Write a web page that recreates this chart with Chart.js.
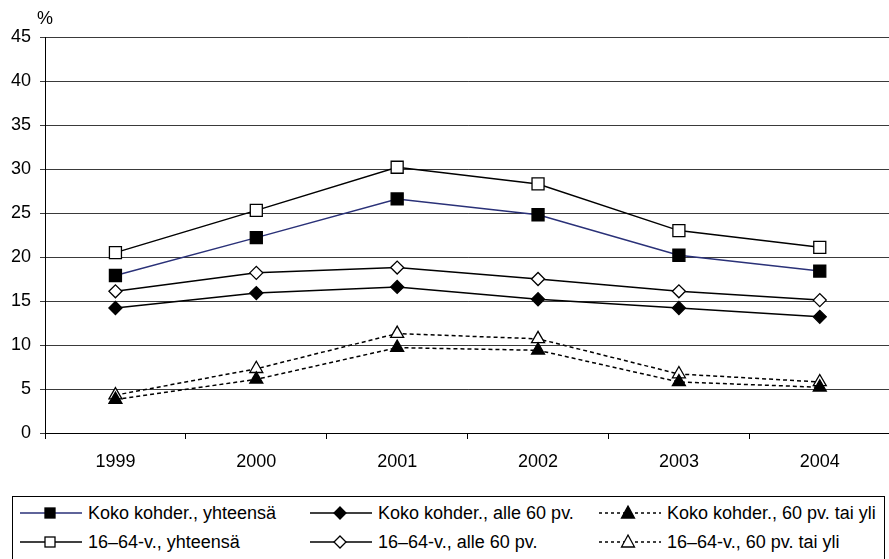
<!DOCTYPE html>
<html>
<head>
<meta charset="utf-8">
<script src="https://cdn.jsdelivr.net/npm/chart.js@4.4.1/dist/chart.umd.min.js"></script>
<style>
  html, body { margin: 0; padding: 0; background: #fff; overflow: hidden; }
  body { width: 889px; height: 559px; position: relative; font-family: "Liberation Sans", Arial, sans-serif; }
  #wrap { position: absolute; left: 0; top: 0; width: 900px; height: 490px; }
  #pct { position: absolute; left: 37px; top: 8px; font-size: 18px; color: #000; }
  #legend { position: absolute; left: 12px; top: 496px; width: 873px; height: 70px; border: 1px solid #000; box-sizing: border-box; }
  .item { position: absolute; display: flex; align-items: center; font-size: 18px; color: #000; white-space: nowrap; }
  .item svg { margin-right: 6px; }
</style>
</head>
<body>
<div id="wrap"><canvas id="chart" width="900" height="490"></canvas></div>
<div id="pct">%</div>
<div id="legend"></div>
<script>
// years on the x axis
const years = ["1999", "2000", "2001", "2002", "2003", "2004"];

// values (%)
const kokoYht = [17.9, 22.2, 26.6, 24.8, 20.2, 18.4];
const kokoAlle60 = [14.2, 15.9, 16.6, 15.2, 14.2, 13.2];
const koko60Yli = [3.8, 6.1, 9.7, 9.4, 5.8, 5.2];
const nuoretYht = [20.5, 25.3, 30.2, 28.3, 23.0, 21.1];
const nuoretAlle60 = [16.1, 18.2, 18.8, 17.5, 16.1, 15.1];
const nuoret60Yli = [4.3, 7.3, 11.3, 10.7, 6.7, 5.8];

// legend names
const names = [
  "Koko kohder., yhteensä",
  "Koko kohder., alle 60 pv.",
  "Koko kohder., 60 pv. tai yli",
  "16\u201364-v., yhteensä",
  "16\u201364-v., alle 60 pv.",
  "16\u201364-v., 60 pv. tai yli"
];

const navy = "#2a3178";
const dash = [4, 3];

// one dataset per series
const series = [
  { data: kokoYht, line: navy, style: "rect", radius: 8.5, fill: "#000", dashed: false },
  { data: kokoAlle60, line: "#000", style: "rectRot", radius: 6.5, fill: "#000", dashed: false },
  { data: koko60Yli, line: "#000", style: "triangle", radius: 7.5, fill: "#000", dashed: true },
  { data: nuoretYht, line: "#000", style: "rect", radius: 8.5, fill: "#fff", dashed: false },
  { data: nuoretAlle60, line: "#000", style: "rectRot", radius: 6.5, fill: "#fff", dashed: false },
  { data: nuoret60Yli, line: "#000", style: "triangle", radius: 7.5, fill: "#fff", dashed: true }
];

const datasets = series.map((s, i) => ({
  label: names[i],
  data: s.data,
  borderColor: s.line,
  borderWidth: 1.5,
  borderDash: s.dashed ? dash : [],
  backgroundColor: s.fill,
  pointStyle: s.style,
  pointRadius: s.radius,
  pointBackgroundColor: s.fill,
  pointBorderColor: "#000",
  pointBorderWidth: 1.3,
  tension: 0,
  fill: false
}));

const font = { family: "'Liberation Sans', Arial, sans-serif", size: 18 };

new Chart(document.getElementById("chart"), {
  type: "line",
  data: { labels: years, datasets: datasets },
  options: {
    responsive: false,
    animation: false,
    layout: { padding: { top: 37, right: 3, left: 0, bottom: 0 } },
    plugins: { legend: { display: false }, tooltip: { enabled: false } },
    scales: {
      x: {
        offset: true,
        grid: { offset: true, drawOnChartArea: false, color: "#000", tickLength: 6, lineWidth: 1 },
        border: { color: "#000", width: 1 },
        ticks: { color: "#000", font: font, padding: 12, maxRotation: 0 },
        afterFit: (scale) => { scale.height = 57; }
      },
      y: {
        min: 0,
        max: 45,
        ticks: { stepSize: 5, color: "#000", font: font, padding: 9 },
        grid: { color: "#3a3a3a", lineWidth: 1, tickLength: 5 },
        border: { color: "#000", width: 1 },
        afterFit: (scale) => { scale.width = 45; }
      }
    }
  }
});

// legend in a box below the chart, three columns
const cols = [20, 310, 599];
const rows = [513, 542];
const legend = document.getElementById("legend");
series.forEach((s, i) => {
  const c = i % 3, r = Math.floor(i / 3);
  const item = document.createElement("div");
  item.className = "item";
  item.style.left = (cols[c] - 13) + "px";
  item.style.top = (rows[r] - 497 - 11) + "px";
  item.style.height = "22px";
  let mark = "";
  if (s.style === "rect") {
    mark = `<rect x="25" y="5" width="10" height="10" fill="${s.fill}" stroke="#000" stroke-width="1.3"/>`;
  } else if (s.style === "rectRot") {
    mark = `<polygon points="30,4 36,10 30,16 24,10" fill="${s.fill}" stroke="#000" stroke-width="1.3"/>`;
  } else {
    mark = `<polygon points="29,3 35.5,15 22.5,15" fill="${s.fill}" stroke="#000" stroke-width="1.3"/>`;
  }
  const da = s.dashed ? 'stroke-dasharray="3,3"' : "";
  const w = s.dashed ? 62 : 62;
  item.innerHTML = `<svg width="${w}" height="20" viewBox="0 0 ${w} 20">` +
    `<line x1="0" y1="10" x2="${w}" y2="10" stroke="${s.line}" stroke-width="1.5" ${da}/>` +
    mark + `</svg>` +
    `<span>${names[i]}</span>`;
  legend.appendChild(item);
});
</script>
</body>
</html>
